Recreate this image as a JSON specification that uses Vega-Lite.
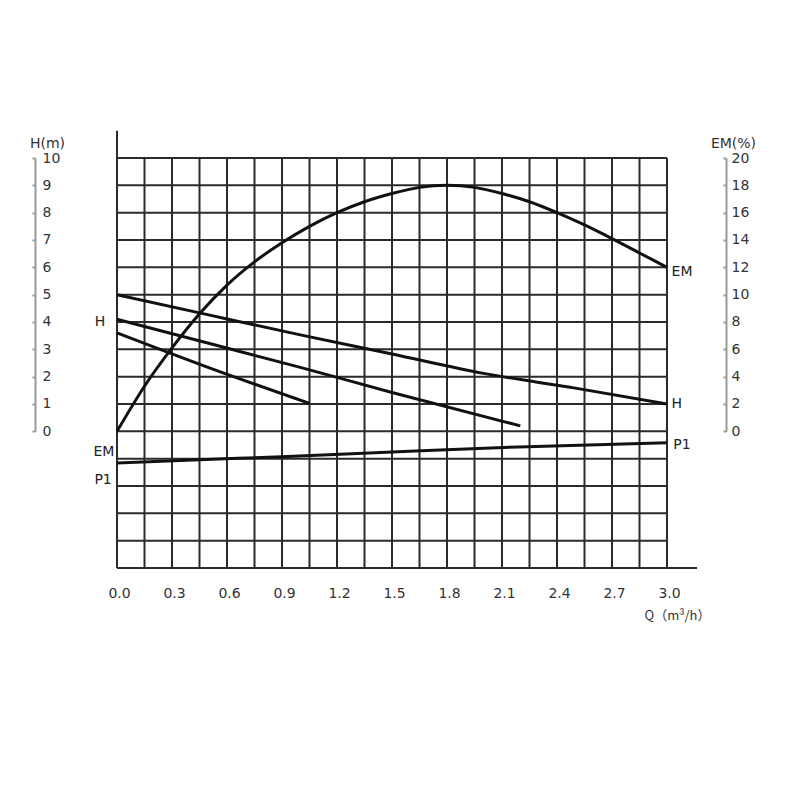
{
  "$schema": "https://vega.github.io/schema/vega-lite/v6.json",
  "width": 550,
  "height": 410,
  "autosize": {"type": "none"},
  "padding": {"left": 117, "top": 158, "right": 137, "bottom": 236},
  "background": "white",
  "config": {"view": {"stroke": null}, "font": "DejaVu Sans"},
  "datasets": {
    "vgrid": [
      {"q": 0, "h": -5, "h2": 11},
      {"q": 0.15, "h": -5, "h2": 10},
      {"q": 0.3, "h": -5, "h2": 10},
      {"q": 0.45, "h": -5, "h2": 10},
      {"q": 0.6, "h": -5, "h2": 10},
      {"q": 0.75, "h": -5, "h2": 10},
      {"q": 0.9, "h": -5, "h2": 10},
      {"q": 1.05, "h": -5, "h2": 10},
      {"q": 1.2, "h": -5, "h2": 10},
      {"q": 1.35, "h": -5, "h2": 10},
      {"q": 1.5, "h": -5, "h2": 10},
      {"q": 1.65, "h": -5, "h2": 10},
      {"q": 1.8, "h": -5, "h2": 10},
      {"q": 1.95, "h": -5, "h2": 10},
      {"q": 2.1, "h": -5, "h2": 10},
      {"q": 2.25, "h": -5, "h2": 10},
      {"q": 2.4, "h": -5, "h2": 10},
      {"q": 2.55, "h": -5, "h2": 10},
      {"q": 2.7, "h": -5, "h2": 10},
      {"q": 2.85, "h": -5, "h2": 10},
      {"q": 3.0, "h": -5, "h2": 10}
    ],
    "hgrid": [
      {"q": 0, "q2": 3.164, "h": -5},
      {"q": 0, "q2": 3, "h": -4},
      {"q": 0, "q2": 3, "h": -3},
      {"q": 0, "q2": 3, "h": -2},
      {"q": 0, "q2": 3, "h": -1},
      {"q": 0, "q2": 3, "h": 0},
      {"q": 0, "q2": 3, "h": 1},
      {"q": 0, "q2": 3, "h": 2},
      {"q": 0, "q2": 3, "h": 3},
      {"q": 0, "q2": 3, "h": 4},
      {"q": 0, "q2": 3, "h": 5},
      {"q": 0, "q2": 3, "h": 6},
      {"q": 0, "q2": 3, "h": 7},
      {"q": 0, "q2": 3, "h": 8},
      {"q": 0, "q2": 3, "h": 9},
      {"q": 0, "q2": 3, "h": 10}
    ],
    "hcurves": [
      {"s": "H1", "q": 0, "h": 5.0},
      {"s": "H1", "q": 0.5, "h": 4.26},
      {"s": "H1", "q": 1.0, "h": 3.53},
      {"s": "H1", "q": 1.5, "h": 2.83},
      {"s": "H1", "q": 2.0, "h": 2.12},
      {"s": "H1", "q": 2.5, "h": 1.58},
      {"s": "H1", "q": 3.0, "h": 1.0},
      {"s": "H2", "q": 0, "h": 4.1},
      {"s": "H2", "q": 0.5, "h": 3.22},
      {"s": "H2", "q": 1.0, "h": 2.34},
      {"s": "H2", "q": 1.5, "h": 1.42},
      {"s": "H2", "q": 2.2, "h": 0.2},
      {"s": "H3", "q": 0, "h": 3.6},
      {"s": "H3", "q": 0.5, "h": 2.33},
      {"s": "H3", "q": 1.05, "h": 1.02}
    ],
    "p1": [
      {"q": 0, "h": -1.16},
      {"q": 0.45, "h": -1.04},
      {"q": 0.9, "h": -0.93},
      {"q": 1.5, "h": -0.76},
      {"q": 2.19, "h": -0.57},
      {"q": 3.0, "h": -0.42}
    ],
    "em": [
      {"q": 0, "em": 0},
      {"q": 0.15, "em": 3.3},
      {"q": 0.3, "em": 6.1},
      {"q": 0.45, "em": 8.6},
      {"q": 0.6, "em": 10.7},
      {"q": 0.75, "em": 12.4},
      {"q": 0.9, "em": 13.8},
      {"q": 1.05, "em": 15.0},
      {"q": 1.2, "em": 16.0},
      {"q": 1.35, "em": 16.8},
      {"q": 1.5, "em": 17.4},
      {"q": 1.65, "em": 17.85},
      {"q": 1.8, "em": 18.0},
      {"q": 1.95, "em": 17.85},
      {"q": 2.1, "em": 17.4},
      {"q": 2.25, "em": 16.8},
      {"q": 2.4, "em": 16.0},
      {"q": 2.55, "em": 15.1},
      {"q": 2.7, "em": 14.1},
      {"q": 2.85, "em": 13.05},
      {"q": 3.0, "em": 12.0}
    ],
    "labels": [
      {"q": -0.093, "h": 4.0, "t": "H"},
      {"q": -0.071, "h": -0.77, "t": "EM"},
      {"q": -0.076, "h": -1.77, "t": "P1"},
      {"q": 3.082, "h": 5.83, "t": "EM"},
      {"q": 3.053, "h": 1.01, "t": "H"},
      {"q": 3.082, "h": -0.51, "t": "P1"}
    ]
  },
  "encoding": {
    "x": {
      "field": "q",
      "type": "quantitative",
      "scale": {"domain": [0, 3], "nice": false, "zero": false},
      "axis": {
        "values": [0, 0.3, 0.6, 0.9, 1.2, 1.5, 1.8, 2.1, 2.4, 2.7, 3.0],
        "format": ".1f",
        "domain": false,
        "ticks": false,
        "grid": false,
        "labelFlush": false,
        "labelOverlap": false,
        "labelPadding": 18,
        "labelOffset": 2,
        "labelFontSize": 14,
        "labelColor": "#333",
        "title": "Q（m³/h）",
        "titleFont": "Noto Sans CJK SC",
        "titleFontSize": 13,
        "titleFontWeight": "normal",
        "titleColor": "#333",
        "titleX": 560,
        "titleY": 47,
        "titleAlign": "center",
        "titleBaseline": "middle"
      }
    }
  },
  "layer": [
    {
      "encoding": {
        "y": {
          "field": "h",
          "type": "quantitative",
          "scale": {"domain": [0, 10], "range": [273.33, 0], "nice": false, "zero": false},
          "axis": {
            "orient": "left",
            "offset": 82,
            "values": [0, 1, 2, 3, 4, 5, 6, 7, 8, 9, 10],
            "grid": false,
            "domainColor": "#999",
            "domainWidth": 2,
            "tickColor": "#999",
            "tickWidth": 2,
            "tickSize": 3,
            "labelAlign": "left",
            "labelBaseline": "middle",
            "labelPadding": -10,
            "labelFontSize": 14,
            "labelColor": "#333",
            "labelOverlap": false,
            "labelFlush": false,
            "title": "H(m)",
            "titleAngle": 0,
            "titleX": 12,
            "titleY": -15,
            "titleAlign": "center",
            "titleBaseline": "middle",
            "titleFontSize": 14,
            "titleFontWeight": "normal",
            "titleColor": "#333"
          }
        }
      },
      "layer": [
        {
          "data": {"name": "vgrid"},
          "mark": {"type": "rule", "color": "#2b2b2b", "strokeWidth": 2},
          "encoding": {"y2": {"field": "h2"}}
        },
        {
          "data": {"name": "hgrid"},
          "mark": {"type": "rule", "color": "#2b2b2b", "strokeWidth": 2},
          "encoding": {"x2": {"field": "q2"}}
        },
        {
          "data": {"name": "hcurves"},
          "mark": {"type": "line", "interpolate": "monotone", "color": "#111", "strokeWidth": 3},
          "encoding": {"detail": {"field": "s"}}
        },
        {
          "data": {"name": "p1"},
          "mark": {"type": "line", "interpolate": "monotone", "color": "#111", "strokeWidth": 3},
          "encoding": {}
        },
        {
          "data": {"name": "labels"},
          "mark": {"type": "text", "fontSize": 14, "color": "#222", "align": "center", "baseline": "middle"},
          "encoding": {"text": {"field": "t"}}
        }
      ]
    },
    {
      "data": {"name": "em"},
      "mark": {"type": "line", "interpolate": "monotone", "color": "#111", "strokeWidth": 3},
      "encoding": {
        "y": {
          "field": "em",
          "type": "quantitative",
          "scale": {"domain": [0, 20], "range": [273.33, 0], "nice": false, "zero": false},
          "axis": {
            "orient": "right",
            "offset": 59,
            "values": [0, 2, 4, 6, 8, 10, 12, 14, 16, 18, 20],
            "grid": false,
            "domainColor": "#999",
            "domainWidth": 2,
            "tickColor": "#999",
            "tickWidth": 2,
            "tickSize": -3,
            "labelAlign": "left",
            "labelBaseline": "middle",
            "labelPadding": 8,
            "labelFontSize": 14,
            "labelColor": "#333",
            "labelOverlap": false,
            "labelFlush": false,
            "title": "EM(%)",
            "titleAngle": 0,
            "titleX": 7,
            "titleY": -15,
            "titleAlign": "center",
            "titleBaseline": "middle",
            "titleFontSize": 14,
            "titleFontWeight": "normal",
            "titleColor": "#333"
          }
        }
      }
    }
  ],
  "resolve": {"scale": {"y": "independent"}, "axis": {"y": "independent"}}
}
